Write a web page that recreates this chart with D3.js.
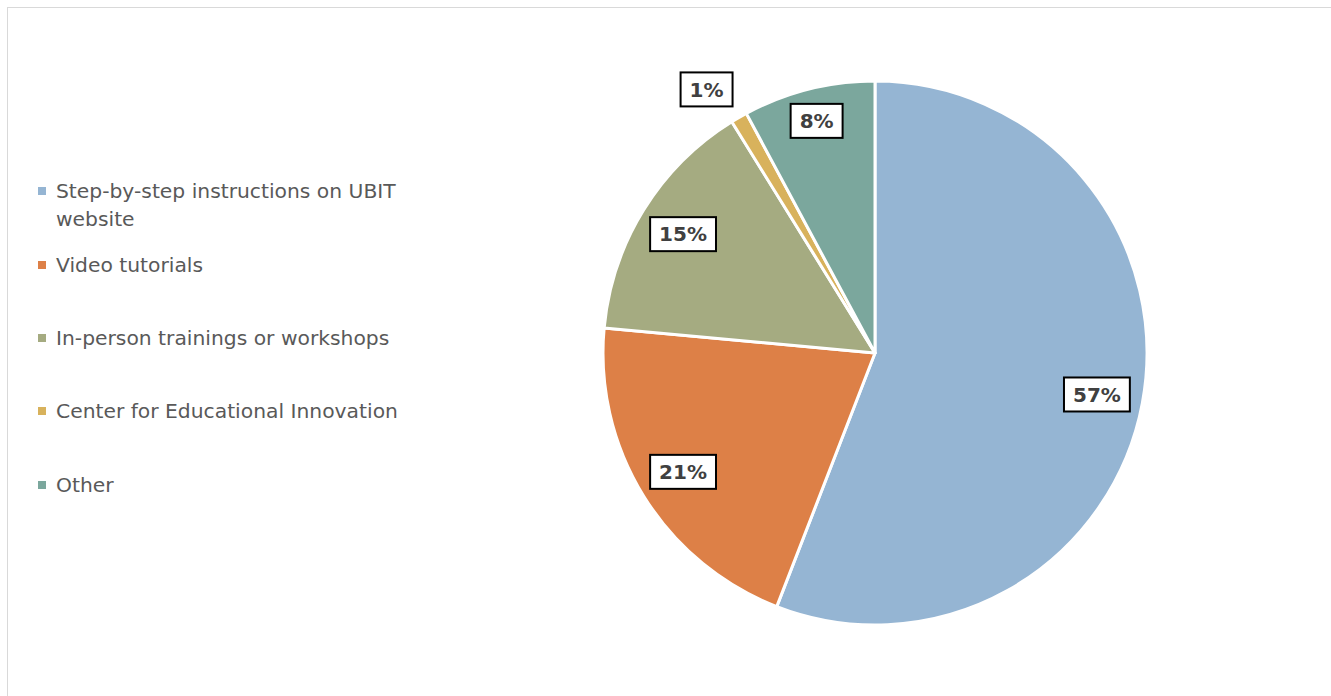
<!DOCTYPE html>
<html>
<head>
<meta charset="utf-8">
<script src="https://cdn.jsdelivr.net/npm/d3@7/dist/d3.min.js"></script>
<style>
  html, body { margin: 0; padding: 0; background: #fff; }
  svg { display: block; }
</style>
</head>
<body>
<svg id="chart" width="1331" height="696"></svg>
<script>
// Survey responses: preferred support resources
const categories = [
  "Step-by-step instructions on UBIT website",
  "Video tutorials",
  "In-person trainings or workshops",
  "Center for Educational Innovation",
  "Other"
];
const shares = [57, 21, 15, 1, 8];
const labels = ["57%", "21%", "15%", "1%", "8%"];
const colors = ["#95b5d3", "#dd8047", "#a5ab81", "#d8b25c", "#7ba79d"];

const svg = d3.select("#chart");
const W = 1331, H = 696;
const FONT = "'DejaVu Sans', sans-serif";

// Chart area frame
svg.append("rect")
  .attr("x", 7.5).attr("y", 7.5)
  .attr("width", W).attr("height", H)
  .attr("fill", "#fff")
  .attr("stroke", "#d9d9d9").attr("stroke-width", 1);

// Pie
const cx = 875, cy = 353, R = 272;
const data = categories.map((c, i) => ({ name: c, value: shares[i], label: labels[i], color: colors[i] }));

const pie = d3.pie().value(d => d.value).sort(null);
const arcs = pie(data);
const arc = d3.arc().innerRadius(0).outerRadius(R);

const g = svg.append("g").attr("transform", `translate(${cx},${cy})`);

g.selectAll("path.slice")
  .data(arcs)
  .enter().append("path")
  .attr("class", "slice")
  .attr("d", arc)
  .attr("fill", d => d.data.color)
  .attr("stroke", "#fff")
  .attr("stroke-width", 3)
  .attr("stroke-linejoin", "round");

// Data labels: boxed, placed inside large slices, outside tiny ones
function labelRadius(d) {
  const span = d.endAngle - d.startAngle;
  if (span > 0.7) return 0.83 * R;
  if (span > 0.25) return 0.88 * R;
  return 1.15 * R;
}
function labelAngle(d) {
  const mid = (d.startAngle + d.endAngle) / 2;
  const span = d.endAngle - d.startAngle;
  // nudge outside labels slightly counter-clockwise to clear the neighbour label
  return span > 0.25 ? mid : mid - 0.045;
}

const lbl = g.selectAll("g.lbl")
  .data(arcs)
  .enter().append("g")
  .attr("class", "lbl")
  .attr("transform", d => {
    const a = labelAngle(d), r = labelRadius(d);
    return `translate(${r * Math.sin(a)},${-r * Math.cos(a)})`;
  });

lbl.append("text")
  .attr("text-anchor", "middle")
  .attr("dy", "0.36em")
  .attr("font-family", FONT)
  .attr("font-weight", "bold")
  .attr("font-size", 20)
  .attr("fill", "#404040")
  .text(d => d.data.label);

lbl.each(function () {
  const gEl = d3.select(this);
  const bb = gEl.select("text").node().getBBox();
  const padX = 9, boxH = 34;
  gEl.insert("rect", "text")
    .attr("x", bb.x - padX)
    .attr("y", -boxH / 2)
    .attr("width", bb.width + 2 * padX)
    .attr("height", boxH)
    .attr("fill", "#fff")
    .attr("stroke", "#000")
    .attr("stroke-width", 2);
});

// Legend
const legendX = 38;
const legendRows = [
  { i: 0, lines: ["Step-by-step instructions on UBIT", "website"], y: 191 },
  { i: 1, lines: ["Video tutorials"], y: 265 },
  { i: 2, lines: ["In-person trainings or workshops"], y: 338 },
  { i: 3, lines: ["Center for Educational Innovation"], y: 411 },
  { i: 4, lines: ["Other"], y: 485 }
];

const legend = svg.append("g");
legendRows.forEach(row => {
  const item = legend.append("g").attr("transform", `translate(${legendX},${row.y})`);
  item.append("rect")
    .attr("x", 0).attr("y", -4)
    .attr("width", 8).attr("height", 8)
    .attr("fill", colors[row.i]);
  const t = item.append("text")
    .attr("x", 18)
    .attr("font-family", FONT)
    .attr("font-size", 20.3)
    .attr("fill", "#595959");
  row.lines.forEach((ln, k) => {
    t.append("tspan")
      .attr("x", 18)
      .attr("y", k * 28)
      .attr("dy", "0.36em")
      .text(ln);
  });
});
</script>
</body>
</html>
